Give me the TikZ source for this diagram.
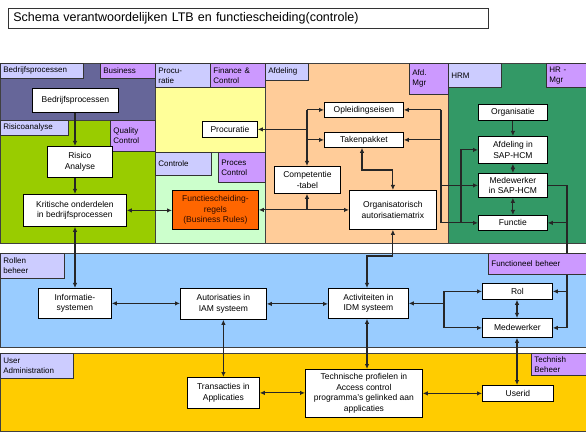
\documentclass[tikz,border=0pt]{standalone}
\usepackage{fontspec}
\setmainfont{Liberation Sans}
\usetikzlibrary{arrows.meta}

\definecolor{slateband}{HTML}{666699}
\definecolor{limeband}{HTML}{99CC00}
\definecolor{paleyellow}{HTML}{FFFF99}
\definecolor{mint}{HTML}{CCFFCC}
\definecolor{peach}{HTML}{FFCC99}
\definecolor{hrmgreen}{HTML}{339966}
\definecolor{skyband}{HTML}{99CCFF}
\definecolor{goldband}{HTML}{FFCC00}
\definecolor{lavender}{HTML}{CCCCFF}
\definecolor{violet}{HTML}{CC99FF}
\definecolor{rulesorange}{HTML}{FF6600}
\definecolor{rulestext}{HTML}{2B0A00}

% white box given by its corners (x1,y1)-(x2,y2)
\newcommand\boxnode[7][]{%
  \pgfmathsetmacro\boxW{#5-#3}\pgfmathsetmacro\boxH{#6-#4}%
  \node[whitebox,#1,minimum width=\boxW pt,minimum height=\boxH pt,anchor=north west] (#2) at (#3,#4) {#7};}
% coloured label tab given by its corners and fill colour
\newcommand\tagnode[7]{%
  \pgfmathsetmacro\boxW{#4-#2}\pgfmathsetmacro\boxH{#5-#3}\pgfmathsetmacro\boxT{#4-#2-6}%
  \node[tagbox,fill=#6,minimum width=\boxW pt,minimum height=\boxH pt,text width=\boxT pt,anchor=north west] (#1) at (#2,#3) {#7};}

\begin{document}
\begin{tikzpicture}[x=1pt,y=-1pt,
  whitebox/.style={draw=black,line width=0.8pt,fill=white,inner sep=1pt,align=center,
    font=\fontsize{8.5}{10.5}\selectfont},
  tagbox/.style={draw=black!80,line width=0.8pt,inner xsep=3pt,inner ysep=1pt,align=left,
    font=\fontsize{8}{10}\selectfont},
  region/.style={draw=black!75,line width=0.8pt},
  conn/.style={line width=1.1pt,draw=black!85},
  arr/.style={conn,-{Latex[length=5pt,width=4.5pt]}},
  darr/.style={conn,{Latex[length=5pt,width=4.5pt]}-{Latex[length=5pt,width=4.5pt]}}]
\useasboundingbox (0,0) rectangle (586,435);
\fill[white] (0,0) rectangle (586,435);

% title
\node[draw=black!80,line width=0.8pt,fill=white,anchor=north west,minimum width=480pt,
  minimum height=20pt,text width=470pt,inner xsep=5pt,align=left,
  font=\fontsize{12.5}{14}\selectfont] (title) at (8,8)
  {Schema verantwoordelijken LTB en functiescheiding(controle)};

% coloured areas
\fill[region,fill=slateband]  (0,63)  rectangle (155,120);
\fill[region,fill=limeband]   (0,120) rectangle (155,243);
\fill[region,fill=paleyellow] (155,63) rectangle (265,152);
\fill[region,fill=mint]       (155,152) rectangle (265,243);
\fill[region,fill=peach]      (265,63) rectangle (448,243);
\fill[region,fill=hrmgreen]   (448,63) rectangle (586,243);
\fill[region,fill=skyband]    (0,253) rectangle (586,347);
\fill[region,fill=goldband]   (0,353) rectangle (586,431);

% label tabs
\tagnode{tBP}{0}{63}{83}{78}{lavender}{Bedrijfsprocessen}
\tagnode{tBus}{100}{63}{155}{78}{violet}{Business}
\tagnode{tRisk}{0}{120}{68}{135}{lavender}{Risicoanalyse}
\tagnode{tQC}{110}{120}{155}{151}{violet}{Quality\\Control}
\tagnode{tProc}{155}{63}{210}{87}{lavender}{Procu-\\ratie}
\tagnode{tFin}{210}{63}{265}{87}{violet}{Finance \&\\Control}
\tagnode{tCtrl}{155}{152}{211}{175}{lavender}{Controle}
\tagnode{tPC}{218}{152}{265}{182}{violet}{Proces\\Control}
\tagnode{tAfd}{265}{63}{308}{80}{lavender}{Afdeling}
\tagnode{tAM}{409}{63}{448}{94}{violet}{Afd.\\Mgr}
\tagnode{tHRM}{448}{63}{501}{87}{lavender}{HRM}
\tagnode{tHRMgr}{546}{63}{586}{87}{violet}{HR -\\Mgr}
\tagnode{tRB}{0}{253}{64}{278}{lavender}{Rollen\\beheer}
\tagnode{tUA}{0}{353}{73}{378}{lavender}{User\\Administration}
\tagnode{tTB}{531}{353}{586}{375}{violet}{Technish\\Beheer}

% boxes
\boxnode{bpbox}{32}{88}{118}{112}{Bedrijfsprocessen}
\boxnode{risico}{47}{146}{112}{177}{Risico\\Analyse}
\boxnode{kritisch}{23}{194}{126}{226}{Kritische onderdelen\\in bedrijfsprocessen}
\boxnode{procuratie}{202}{121}{257}{137}{Procuratie}
\boxnode[fill=rulesorange,text=rulestext]{fsr}{172}{190}{258}{229}{Functiescheiding-\\regels\\(Business Rules)}
\boxnode{opleiding}{324}{102}{403}{117}{Opleidingseisen}
\boxnode{taken}{324}{132}{403}{147}{Takenpakket}
\boxnode{comp}{274}{166}{340}{193}{Competentie\\-tabel}
\boxnode{orgmat}{349}{190}{436}{229}{Organisatorisch\\autorisatiematrix}
\boxnode{organisatie}{478}{104}{547}{120}{Organisatie}
\boxnode{afdsap}{478}{136}{547}{163}{Afdeling in\\SAP-HCM}
\boxnode{medsap}{478}{173}{547}{197}{Medewerker\\in SAP-HCM}
\boxnode{functie}{478}{215}{547}{230}{Functie}
\boxnode{infosys}{38}{288}{111}{318}{Informatie-\\systemen}
\boxnode{iam}{180}{288}{266}{319}{Autorisaties in\\IAM systeem}
\boxnode{idm}{328}{288}{408}{318}{Activiteiten in\\IDM systeem}
\boxnode{rol}{482}{283}{552}{299}{Rol}
\boxnode{medew}{482}{318}{552}{337}{Medewerker}
\boxnode{trans}{187}{377}{259}{408}{Transacties in\\Applicaties}
\boxnode{techn}{305}{369}{422}{417}{Technische profielen in\\Access control\\programma's gelinked aan\\applicaties}
\boxnode{userid}{482}{385}{553}{401}{Userid}

% guide lines for the connector trunks
\coordinate (gBP) at (75,0);
\coordinate (gComp) at (307,0);
\coordinate (gTaken) at (362,170);
\coordinate (gHR) at (441,0);
\coordinate (gAfd) at (461,0);
\coordinate (gFB) at (567,0);
\coordinate (gIDM) at (444,0);
\coordinate (gOrg) at (0,256);
\coordinate (gIDMx) at (367,0);
\coordinate (gRol) at (517,0);

% business processes column
\draw[arr] (bpbox.south -| gBP) -- (risico.north -| gBP);
\draw[arr] (risico.south -| gBP) -- (kritisch.north -| gBP);
\draw[darr] (kritisch.south -| gBP) -- (infosys.north -| gBP);
\draw[darr] (kritisch.east) -- (kritisch.east -| fsr.west);

% department tree around the competence table
\draw[arr] (gComp |- opleiding.west) -- (opleiding.west);
\draw[arr] (gComp |- taken.west) -- (taken.west);
\draw[arr] (gComp |- opleiding.west) -- (comp.north -| gComp);
\draw[arr] (gComp |- procuratie.east) -- (procuratie.east);
\draw[darr] (fsr.east) -- (fsr.east -| orgmat.west);
\draw[arr] (fsr.east -| gComp) -- (comp.south -| gComp);
\draw[darr] (taken.south -| gTaken) -- (gTaken) -| (orgmat.north);

% HRM trunk
\draw[arr] (gHR |- opleiding.east) -- (opleiding.east);
\draw[arr] (gHR |- taken.east) -- (taken.east);
\draw[arr] (gHR |- opleiding.east) -- (gHR |- functie.west) -- (functie.west);
\draw[arr] (gHR |- medsap.west) -- (medsap.west);
\draw[arr] (gAfd |- functie.west) -- (gAfd |- afdsap.west) -- (afdsap.west);
\draw[arr] (organisatie.south) -- (organisatie.south |- afdsap.north);
\draw[darr] (afdsap.south) -- (afdsap.south |- medsap.north);
\draw[darr] (medsap.south) -- (medsap.south |- functie.north);

% functional management line
\draw[arr] (medsap.east) -- (gFB |- medsap.east) -- (gFB |- medew.east) -- (medew.east);
\draw[arr] (gFB |- functie.east) -- (functie.east);
\draw[arr] (gFB |- rol.east) -- (rol.east);
\tagnode{tFB}{488}{253}{586}{274}{violet}{Functioneel beheer}

% role management
\draw[darr] (infosys.east) -- (infosys.east -| iam.west);
\draw[darr] (iam.east) -- (iam.east -| idm.west);
\draw[arr] (gIDM |- idm.east) -- (idm.east);
\draw[arr] (gIDM |- rol.west) -- (rol.west);
\draw[arr] (gIDM |- rol.west) -- (gIDM |- medew.west) -- (medew.west);
\draw[darr] (rol.south -| gRol) -- (medew.north -| gRol);
\draw[darr] (orgmat.south) -- (orgmat.south |- gOrg) -| (idm.north -| gIDMx);

% user administration
\draw[darr] (iam.south) -- (trans.north -| iam.south);
\draw[darr] (idm.south -| gIDMx) -- (techn.north -| gIDMx);
\draw[darr] (medew.south -| gRol) -- (userid.north -| gRol);
\draw[darr] (trans.east) -- (trans.east -| techn.west);
\draw[darr] (techn.east |- userid.west) -- (userid.west);
\end{tikzpicture}
\end{document}
